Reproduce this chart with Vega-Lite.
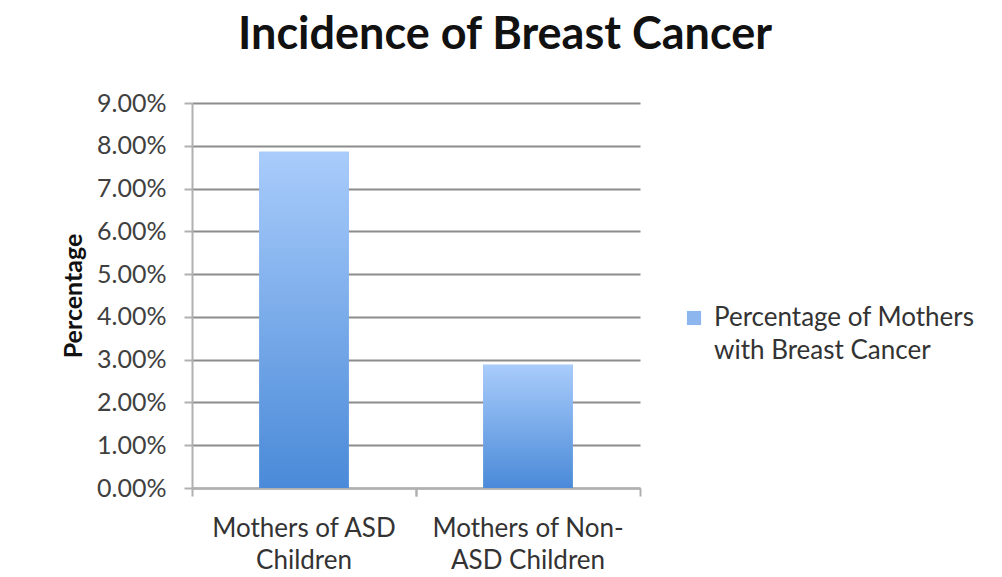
{
  "$schema": "https://vega.github.io/schema/vega-lite/v6.json",
  "width": 448,
  "height": 385,
  "autosize": {"type": "none"},
  "padding": {"left": 192, "top": 103, "right": 362, "bottom": 89},
  "background": "white",
  "title": {
    "text": "Incidence of Breast Cancer",
    "font": "Lato",
    "fontSize": 45,
    "fontWeight": "bold",
    "color": "#111111",
    "anchor": "middle",
    "dx": 89,
    "offset": 33
  },
  "data": {
    "values": [
      {"group": "Mothers of ASD Children", "series": "Percentage of Mothers with Breast Cancer", "pct": 0.0786},
      {"group": "Mothers of Non-ASD Children", "series": "Percentage of Mothers with Breast Cancer", "pct": 0.0288}
    ]
  },
  "encoding": {
    "y": {
      "field": "pct",
      "type": "quantitative",
      "title": "Percentage",
      "scale": {"domain": [0, 0.09]},
      "axis": {
        "format": ".2%",
        "values": [0, 0.01, 0.02, 0.03, 0.04, 0.05, 0.06, 0.07, 0.08, 0.09],
        "labelFont": "Lato",
        "labelFontSize": 25,
        "labelColor": "#404040",
        "labelPadding": 18,
        "tickSize": 8,
        "tickColor": "#b0b0b0",
        "tickWidth": 2,
        "domainColor": "#b0b0b0",
        "domainWidth": 2,
        "grid": true,
        "gridColor": "#8c8c8c",
        "gridWidth": 2,
        "titleFont": "Lato",
        "titleFontSize": 25,
        "titleFontWeight": "bold",
        "titleColor": "#111111",
        "titlePadding": 10
      }
    }
  },
  "layer": [
    {
      "mark": {"type": "bar"},
      "encoding": {
        "x": {
          "field": "group",
          "type": "nominal",
          "sort": null,
          "title": null,
          "scale": {"paddingInner": 0.6, "paddingOuter": 0.3},
          "axis": {
            "orient": "bottom",
            "labelAngle": 0,
            "labelFont": "Lato",
            "labelFontSize": 26,
            "labelColor": "#333333",
            "labelLineHeight": 32,
            "labelPadding": 27,
            "labelBaseline": "top",
            "labelLimit": 0,
            "labelExpr": "datum.value == 'Mothers of ASD Children' ? ['Mothers of ASD', 'Children'] : ['Mothers of Non-', 'ASD Children']",
            "ticks": false,
            "domainColor": "#b0b0b0",
            "domainWidth": 2,
            "grid": false
          }
        },
        "color": {
          "field": "series",
          "type": "nominal",
          "scale": {"range": ["#8db6ee"]},
          "legend": {
            "orient": "none",
            "legendX": 489,
            "legendY": 202,
            "title": null,
            "symbolType": "square",
            "symbolSize": 200,
            "symbolStrokeWidth": 0,
            "labelFont": "Lato",
            "labelFontSize": 26,
            "labelColor": "#333333",
            "labelLimit": 0,
            "labelOffset": 7,
            "labelExpr": "['Percentage of Mothers', 'with Breast Cancer']",
            "encode": {"labels": {"update": {"lineHeight": {"value": 33}}}}
          }
        }
      }
    },
    {
      "mark": {
        "type": "bar",
        "color": {
          "gradient": "linear",
          "x1": 0, "y1": 0, "x2": 0, "y2": 1,
          "stops": [
            {"offset": 0, "color": "#a9ccfb"},
            {"offset": 1, "color": "#4a8ad8"}
          ]
        }
      },
      "encoding": {
        "x": {
          "field": "group",
          "type": "nominal",
          "sort": null,
          "title": null,
          "scale": {"paddingInner": 0.6, "paddingOuter": 0.3},
          "axis": {
            "orient": "bottom",
            "labels": false,
            "domain": false,
            "tickOffset": -112,
            "tickSize": 8,
            "tickColor": "#b0b0b0",
            "tickWidth": 2,
            "grid": false
          }
        }
      }
    },
    {
      "mark": {"type": "bar", "opacity": 0},
      "encoding": {
        "x": {
          "field": "group",
          "type": "nominal",
          "sort": null,
          "title": null,
          "scale": {"paddingInner": 0.6, "paddingOuter": 0.3},
          "axis": {
            "orient": "bottom",
            "labels": false,
            "domain": false,
            "tickOffset": 112,
            "tickSize": 8,
            "tickColor": "#b0b0b0",
            "tickWidth": 2,
            "grid": false
          }
        }
      }
    }
  ],
  "resolve": {"axis": {"x": "independent"}},
  "config": {"view": {"stroke": null}}
}
